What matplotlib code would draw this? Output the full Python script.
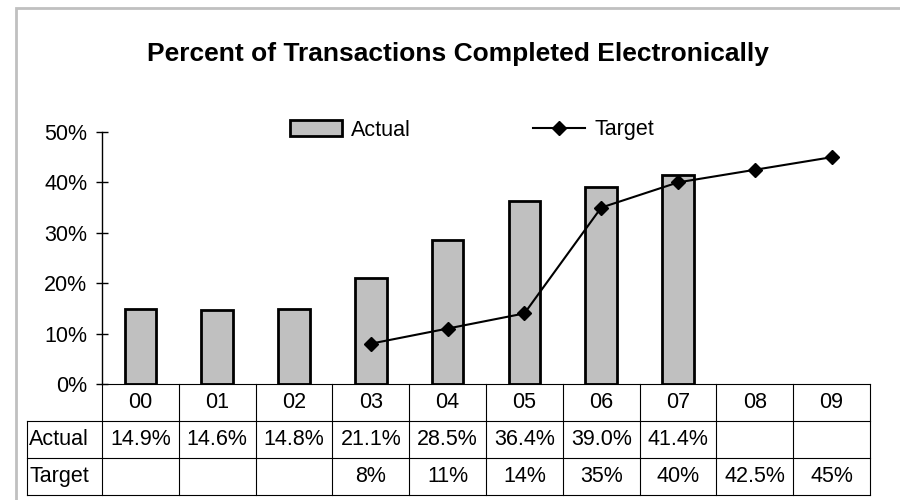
import numpy as np
import matplotlib
matplotlib.use("Agg")
import matplotlib.pyplot as plt
from matplotlib.lines import Line2D
from matplotlib.patches import Rectangle
import matplotlib.transforms as mtrans

plt.rcParams['font.family'] = ['Liberation Sans', 'DejaVu Sans']

years = ['00', '01', '02', '03', '04', '05', '06', '07', '08', '09']
actual = [14.9, 14.6, 14.8, 21.1, 28.5, 36.4, 39.0, 41.4]
target = [None, None, None, 8, 11, 14, 35, 40, 42.5, 45]
actual_txt = ['14.9%', '14.6%', '14.8%', '21.1%', '28.5%', '36.4%', '39.0%', '41.4%', '', '']
target_txt = ['', '', '', '8%', '11%', '14%', '35%', '40%', '42.5%', '45%']
yticks = [0, 10, 20, 30, 40, 50]

fs = 15.5
fig = plt.figure(figsize=(9, 5), dpi=100)
# grey chart-area frame (runs off the right/bottom edge)
fig.patches.append(Rectangle((16 / 900, -0.1), 1.2, (500 - 8) / 500 + 0.1, transform=fig.transFigure,
                             fill=False, edgecolor='#c0c0c0', linewidth=2))

ax = fig.add_axes([102 / 900, 116 / 500, 768 / 900, 252 / 500])
x = np.arange(len(years))
ax.bar(x[:len(actual)], actual, width=0.41, color='#c0c0c0', edgecolor='black', linewidth=2, label='Actual', zorder=2)
tx = [i for i, v in enumerate(target) if v is not None]
ty = [v for v in target if v is not None]
ax.plot(tx, ty, color='black', linewidth=1.5, marker='D', markersize=7.5, label='Target', zorder=3)

ax.set_xlim(-0.5, len(years) - 0.5)
ax.set_ylim(0, 50)
ax.set_yticks(yticks)
ax.set_yticklabels(['%d%%' % v for v in yticks], fontsize=fs)
ax.tick_params(axis='y', direction='inout', length=9, width=1, pad=6)
ax.set_xticks([])
for s in ['top', 'right', 'bottom']:
    ax.spines[s].set_visible(False)
ax.spines['left'].set_linewidth(1)

# data table below the plot
row_h = 37 / 252
trans = mtrans.blended_transform_factory(ax.transData, ax.transAxes)
left = -0.5 - 75 / 76.8
right = len(years) - 0.5
lw = 0.8
ys = [0, -row_h, -2 * row_h, -3 * row_h]
ax.plot([-0.5, right], [0, 0], transform=trans, color='black', lw=lw, clip_on=False)
for yy in ys[1:]:
    ax.plot([left, right], [yy, yy], transform=trans, color='black', lw=lw, clip_on=False)
for i in range(len(years) + 1):
    ax.plot([i - 0.5, i - 0.5], [0, ys[-1]], transform=trans, color='black', lw=lw, clip_on=False)
ax.plot([left, left], [ys[1], ys[-1]], transform=trans, color='black', lw=lw, clip_on=False)

for i, lab in enumerate(years):
    ax.text(i, -0.5 * row_h, lab, transform=trans, ha='center', va='center', fontsize=fs)
    ax.text(i, -1.5 * row_h, actual_txt[i], transform=trans, ha='center', va='center', fontsize=fs)
    ax.text(i, -2.5 * row_h, target_txt[i], transform=trans, ha='center', va='center', fontsize=fs)
ax.text(left + 0.03, -1.5 * row_h, 'Actual', transform=trans, ha='left', va='center', fontsize=fs)
ax.text(left + 0.03, -2.5 * row_h, 'Target', transform=trans, ha='left', va='center', fontsize=fs)

fig.text(458 / 900, 1 - 54 / 500, 'Percent of Transactions Completed Electronically',
         ha='center', va='center', fontsize=19, fontweight='bold')

handles = [Rectangle((0, 0), 1, 1, facecolor='#c0c0c0', edgecolor='black', linewidth=2),
           Line2D([], [], color='black', linewidth=1.5, marker='D', markersize=7.5)]
fig.legend(handles, ['Actual', 'Target'], ncol=2, loc='center', bbox_to_anchor=(472 / 900, 1 - 130 / 500),
           frameon=False, fontsize=fs, handlelength=2.4, handletextpad=0.42, columnspacing=5.7,
           handleheight=0.75, borderpad=0)

fig.savefig('out.png', dpi=100)
